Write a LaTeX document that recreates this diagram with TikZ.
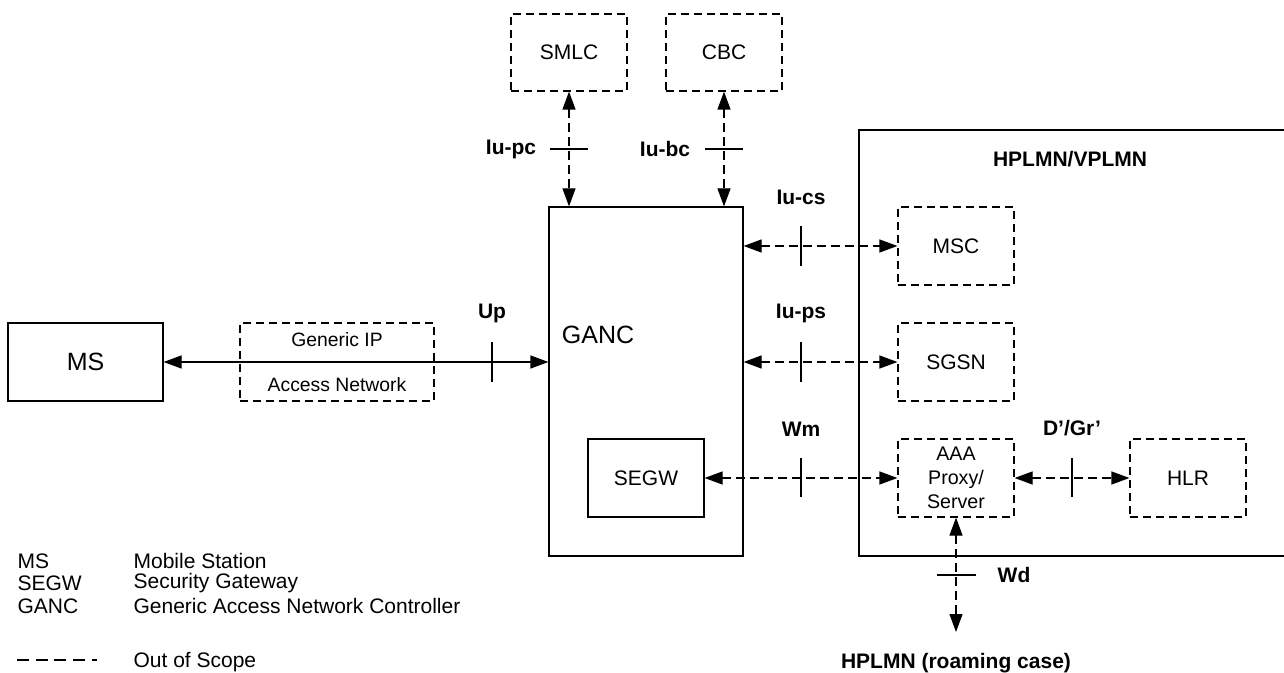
\documentclass[tikz,border=0pt]{standalone}
\usepackage{fontspec}
\setmainfont{Liberation Sans}
\usetikzlibrary{arrows.meta}

\tikzset{every picture/.style={line width=0.9pt}}
\tikzset{
  netbox/.style={draw, minimum width=87pt, minimum height=58.5pt, inner sep=0pt, align=center, font=\fontsize{15.75}{18}\selectfont},
  oosbox/.style={netbox, dash pattern=on 6pt off 3.75pt},
  iflabel/.style={inner sep=0pt, font=\fontsize{15.75}{18}\selectfont\bfseries},
  legtext/.style={anchor=west, inner sep=0pt, font=\fontsize{15.75}{18}\selectfont},
  tip/.tip={Triangle[length=13.5pt,width=9.75pt]},
  ifarrow/.style={tip-tip},
  oosarrow/.style={tip-tip, dash pattern=on 6.5pt off 4pt},
}

\begin{document}
\begin{tikzpicture}[x=0.75pt,y=0.75pt,yscale=-1,xscale=1]
\useasboundingbox (0,0) rectangle (1284,673);

%Shape: Rectangle
\draw (859,130) rectangle (1300,556);

% boxes
\node[netbox, minimum width=116.25pt, font=\fontsize{18.75}{22}\selectfont] (ms) at (85.5,362) {MS};
\node[oosbox, minimum width=145.5pt, font=\fontsize{14.5}{33.75}\selectfont] (genip) at (337,362) {Generic IP\\Access Network};
\node[netbox, minimum width=145.5pt, minimum height=261.75pt] (ganc) at (646,381.5) {};
\node[netbox] (segw) at (646,478) {SEGW};
\node[oosbox, minimum height=57.75pt] (smlc) at (569,52.5) {SMLC};
\node[oosbox, minimum height=57.75pt] (cbc) at (724,52.5) {CBC};
\node[oosbox] (msc) at (956,246) {MSC};
\node[oosbox] (sgsn) at (956,362) {SGSN};
\node[oosbox, font=\fontsize{14.75}{18}\selectfont] (aaa) at (956,478) {AAA\\Proxy/\\Server};
\node[oosbox] (hlr) at (1188,478) {HLR};
\coordinate (roam) at (956,632);

% Text Node
\node[inner sep=0pt, font=\fontsize{18.75}{22}\selectfont] (gancname) at (598,335) {GANC};
% Text Node
\node[iflabel] (plmn) at (1070,159) {HPLMN/VPLMN};
% Text Node
\node[iflabel] (home) at (956,663) {HPLMN (roaming case)};

% interfaces
\draw[ifarrow] (ms.east) -- (ms.east -| ganc.west);
\draw[oosarrow] (smlc.south) -- (smlc.south |- ganc.north);
\draw[oosarrow] (cbc.south) -- (cbc.south |- ganc.north);
\draw[oosarrow] (msc.west -| ganc.east) -- (msc.west);
\draw[oosarrow] (sgsn.west -| ganc.east) -- (sgsn.west);
\draw[oosarrow] (segw.east) -- (aaa.west);
\draw[oosarrow] (aaa.east) -- (hlr.west);
\draw[oosarrow] (aaa.south) -- (roam);

% ticks
\draw (492,342) -- (492,382);
\draw (550,149) -- (588,149);
\draw (705,149) -- (743,149);
\draw (801,226) -- (801,266);
\draw (801,342) -- (801,382);
\draw (801,458) -- (801,497);
\draw (1072,458) -- (1072,497);
\draw (937,575) -- (976,575);

% Text Node
\node[iflabel] (up) at (492,313) {Up};
\node[iflabel] (iupc) at (511,149) {Iu-pc};
\node[iflabel] (iubc) at (665,149) {Iu-bc};
\node[iflabel] (iucs) at (801,197) {Iu-cs};
\node[iflabel] (iups) at (801,313) {Iu-ps};
\node[iflabel] (wm) at (801,429) {Wm};
\node[iflabel] (dgr) at (1072,428) {D’/Gr’};
\node[iflabel] (wd) at (1014,575) {Wd};

% legend
\node[legtext] (lms) at (17,561) {MS};
\node[legtext] (lmsd) at (133,561) {Mobile Station};
\node[legtext] (lsegw) at (17,583.5) {SEGW};
\node[legtext] (lsegwd) at (133,583.5) {Security Gateway};
\node[legtext] (lganc) at (17,606) {GANC};
\node[legtext] (lgancd) at (133,606) {Generic Access Network Controller};
\draw[dash pattern=on 9pt off 5pt] (17,660) -- (97,660);
\node[legtext] (loos) at (133,662) {Out of Scope};

\end{tikzpicture}
\end{document}
